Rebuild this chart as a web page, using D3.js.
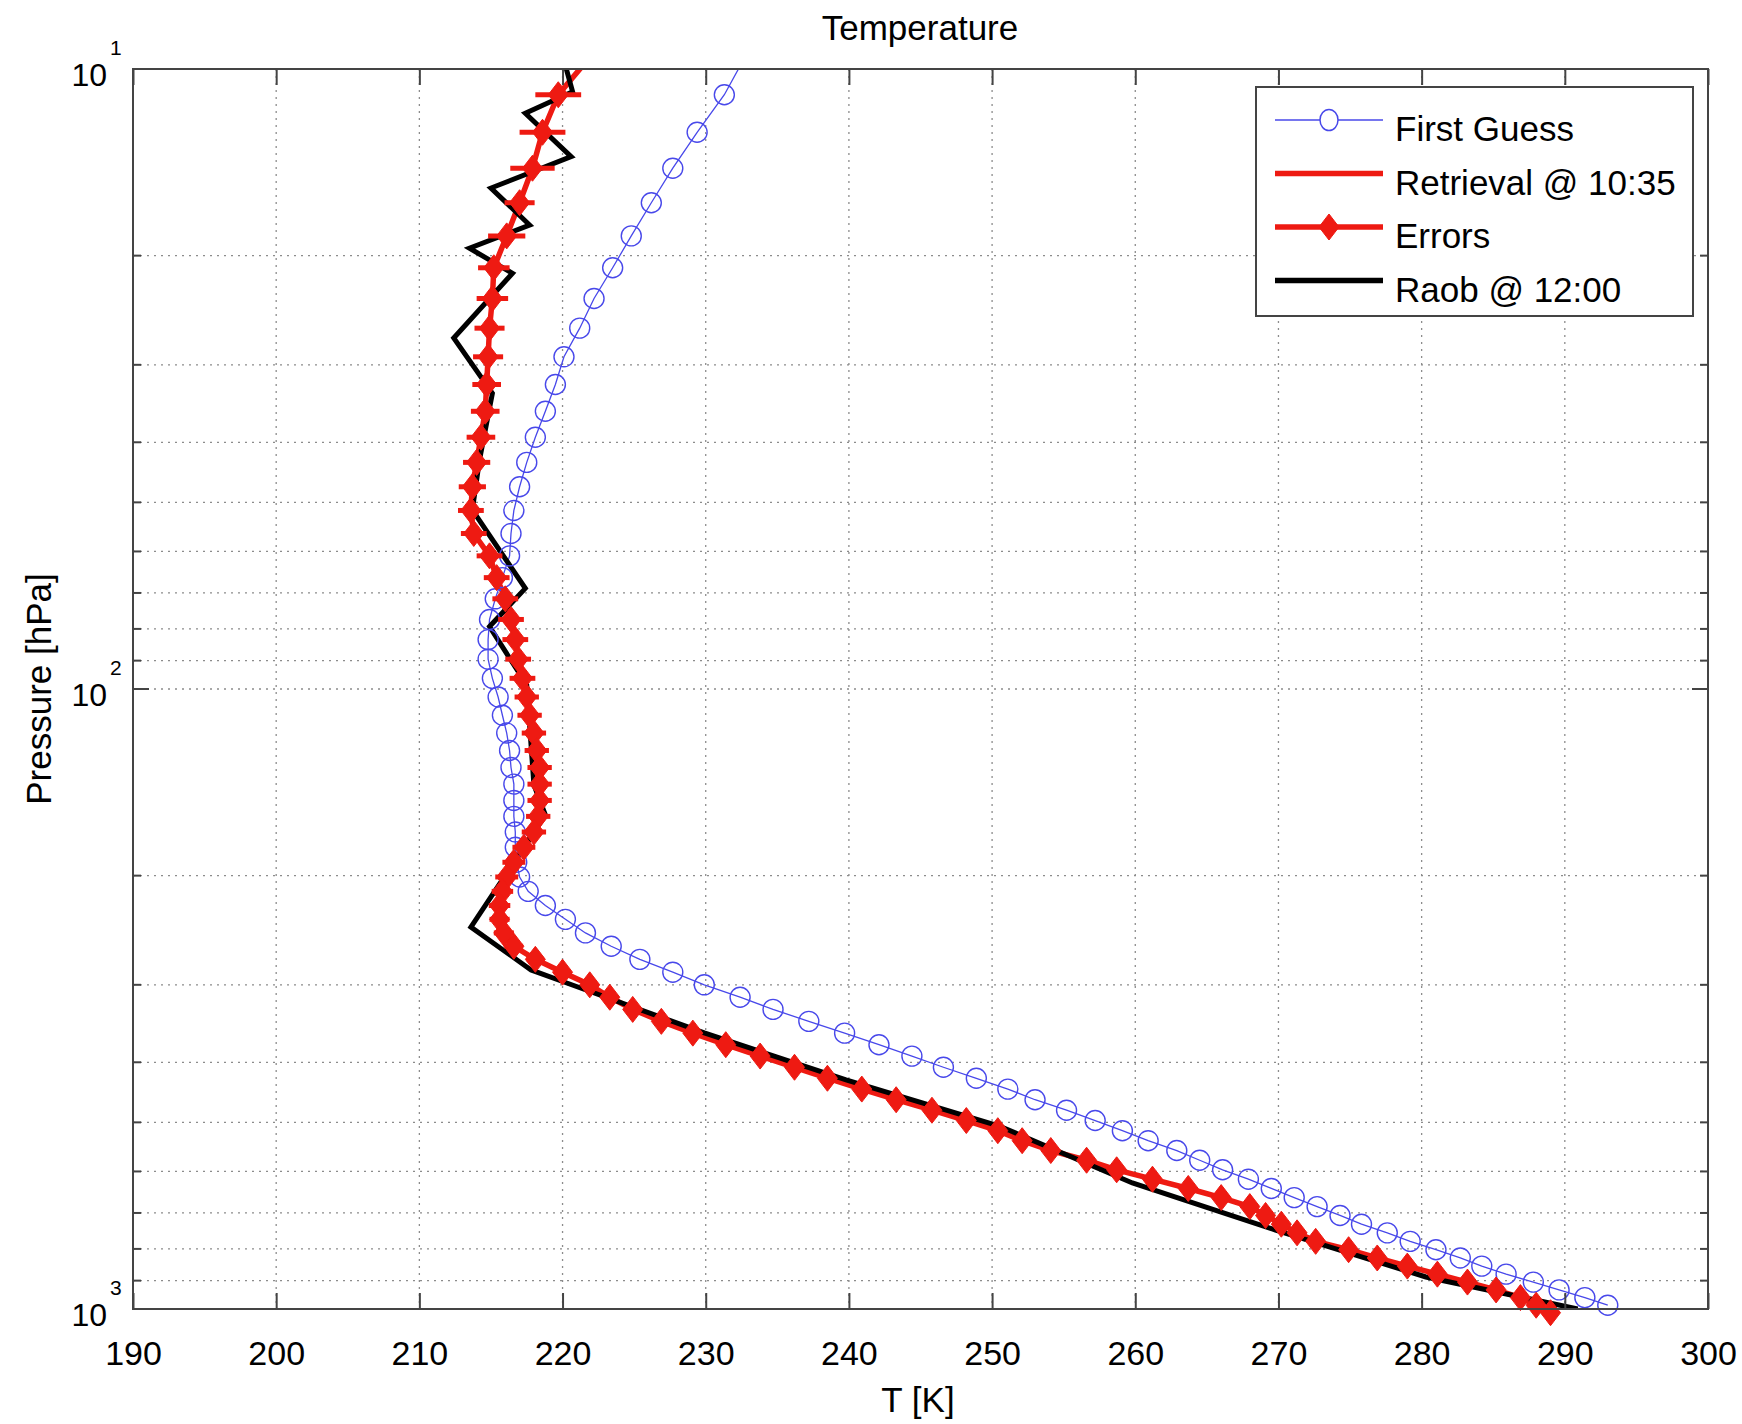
<!DOCTYPE html>
<html>
<head>
<meta charset="utf-8">
<script src="https://cdn.jsdelivr.net/npm/d3@7"></script>
<style>
  body { margin: 0; background: #fff; }
  text { font-family: "Liberation Sans", Arial, Helvetica, sans-serif; fill: #000; }
</style>
</head>
<body>
<script>
// pressure levels [hPa] (retrieval grid)
const pLevels = [9.5119, 11.0038, 12.6492, 14.4559, 16.4318, 18.5847, 20.9224, 23.4526, 26.1829, 29.1210,
  32.2744, 35.6505, 39.2566, 43.1001, 47.1882, 51.5278, 56.1260, 60.9895, 66.1253, 71.5398,
  77.2396, 83.2310, 89.5204, 96.1138, 103.0172, 110.2366, 117.7775, 125.6456, 133.8462, 142.3848,
  151.2664, 160.4959, 170.0784, 180.0183, 190.3203, 200.9887, 212.0277, 223.4415, 235.2338, 247.4085,
  259.9691, 272.9191, 286.2617, 300.0000, 314.1369, 328.6753, 343.6176, 358.9665, 374.7241, 390.8926,
  407.4738, 424.4698, 441.8819, 459.7118, 477.9607, 496.6298, 515.7200, 535.2322, 555.1669, 575.5248,
  596.3062, 617.5112, 639.1398, 661.1920, 683.6673, 706.5654, 729.8857, 753.6275, 777.7897, 802.3714,
  827.3713, 852.7880, 878.6201, 904.8659, 931.5236, 958.5911, 986.0666, 1013.9476];

// first guess T [K]
const firstGuess = [232.8, 231.3, 229.4, 227.7, 226.2, 224.8, 223.5, 222.2, 221.2, 220.1,
  219.5, 218.8, 218.1, 217.5, 217.0, 216.6, 216.4, 216.3, 215.8, 215.3,
  214.9, 214.8, 214.8, 215.1, 215.5, 215.8, 216.1, 216.3, 216.4, 216.6,
  216.6, 216.6, 216.7, 216.7, 216.8, 217.0, 217.6, 218.8, 220.2, 221.6,
  223.4, 225.4, 227.7, 229.9, 232.4, 234.7, 237.2, 239.7, 242.1, 244.4,
  246.6, 248.9, 251.1, 253.0, 255.2, 257.2, 259.1, 260.9, 262.9, 264.5,
  266.1, 267.9, 269.5, 271.1, 272.7, 274.3, 275.8, 277.6, 279.2, 281.0,
  282.7, 284.2, 285.9, 287.8, 289.6, 291.4, 293.0, null];

// retrieval T [K]
const retrieval = [222.0, 219.7, 218.6, 217.9, 217.0, 216.1, 215.2, 215.1, 214.9, 214.8,
  214.7, 214.6, 214.3, 214.0, 213.7, 213.6, 213.8, 214.9, 215.4, 216.0,
  216.4, 216.7, 216.9, 217.2, 217.5, 217.7, 218.0, 218.2, 218.4, 218.4,
  218.4, 218.3, 218.0, 217.3, 216.6, 216.1, 215.8, 215.6, 215.6, 215.9,
  216.6, 218.1, 220.0, 221.9, 223.3, 224.9, 226.9, 229.1, 231.4, 233.8,
  236.2, 238.5, 240.9, 243.3, 245.8, 248.2, 250.4, 252.1, 254.1, 256.6,
  258.7, 261.2, 263.7, 266.0, 268.0, 269.1, 270.2, 271.3, 272.6, 274.9,
  276.9, 279.0, 281.1, 283.2, 285.2, 286.9, 288.0, 289.0];

// retrieval errors [K]
const errors = [1.6, 1.6, 1.6, 1.55, 1.05, 1.3, 1.1, 1.1, 1.05, 1.05,
  1.0, 1.0, 1.0, 0.95, 0.95, 0.9, 0.9, 0.9, 0.9, 0.9,
  0.9, 0.9, 0.9, 0.9, 0.85, 0.85, 0.85, 0.85, 0.85, 0.85,
  0.85, 0.85, 0.85, 0.8, 0.8, 0.8, 0.75, 0.75, 0.7, 0.7,
  0.65, 0.6, 0.55, 0.55, 0.55, 0.55, 0.55, 0.55, 0.55, 0.55,
  0.5, 0.5, 0.5, 0.5, 0.5, 0.5, 0.5, 0.5, 0.5, 0.5,
  0.5, 0.5, 0.5, 0.5, 0.5, 0.5, 0.5, 0.5, 0.5, 0.5,
  0.5, 0.5, 0.5, 0.5, 0.5, 0.5, 0.5, 0.5];

// radiosonde
const raobP = [9.5, 10.88, 11.79, 13.85, 15.56, 17.85, 19.46, 21.36, 27.16, 33.36, 42.72, 51.44, 68.81,
  79.33, 98.52, 142.8, 159.7, 242.1, 283.9, 298.0, 358.7, 427.1, 506.9, 626.2, 745.8, 887.9, 1000];
const raobT = [220.0, 220.7, 217.4, 220.6, 215.0, 217.7, 213.5, 216.5, 212.4, 215.1, 214.2, 213.7, 217.4,
  214.9, 217.5, 218.0, 218.8, 213.6, 217.8, 220.3, 229.9, 239.8, 250.5, 259.8, 269.8, 280.3, 290.9];

const xTicks = [190, 200, 210, 220, 230, 240, 250, 260, 270, 280, 290, 300];
const yDecades = [10, 100, 1000];
const yExponents = ["1", "2", "3"];
const legendLabels = ["First Guess", "Retrieval @ 10:35", "Errors", "Raob @ 12:00"];

const W = 1742, H = 1424;
const L = 133, R = 1708, T = 69, B = 1309;

const svg = d3.select("body").append("svg")
  .attr("width", W).attr("height", H);

const x = d3.scaleLinear().domain([190, 300]).range([L, R]);
const y = d3.scaleLog().domain([10, 1000]).range([T, B]);

const levels = pLevels.map((p, i) => ({ p, fg: firstGuess[i], ret: retrieval[i], err: errors[i] }));
const raob = raobP.map((p, i) => ({ p, t: raobT[i] }));
const inside = levels.filter(d => d.p >= 10);

svg.append("clipPath").attr("id", "plot")
  .append("rect").attr("x", L).attr("y", T).attr("width", R - L).attr("height", B - T);

// grid
const grid = svg.append("g").attr("stroke", "#8c8c8c").attr("stroke-width", 1.3)
  .attr("stroke-dasharray", "2,5");
grid.selectAll(".vg").data(xTicks.slice(1, -1)).enter().append("line")
  .attr("x1", d => x(d)).attr("x2", d => x(d)).attr("y1", T).attr("y2", B);
grid.selectAll(".hg").data(y.ticks().filter(v => v > 10 && v < 1000)).enter().append("line")
  .attr("x1", L).attr("x2", R).attr("y1", d => y(d)).attr("y2", d => y(d));

const plot = svg.append("g");
const clipped = plot.append("g").attr("clip-path", "url(#plot)");

// first guess
const blue = "#4848ea";
clipped.append("path")
  .datum(levels)
  .attr("fill", "none").attr("stroke", blue).attr("stroke-width", 1.3)
  .attr("d", d3.line().defined(d => d.fg != null).x(d => x(d.fg)).y(d => y(d.p)));
plot.selectAll(".fg").data(inside.filter(d => d.fg != null)).enter().append("circle")
  .attr("cx", d => x(d.fg)).attr("cy", d => y(d.p)).attr("r", 10)
  .attr("fill", "none").attr("stroke", blue).attr("stroke-width", 1.4);

// retrieval
const red = "#ee1a12";
const retLine = d3.line().x(d => x(d.ret)).y(d => y(d.p));
clipped.append("path").datum(levels)
  .attr("fill", "none").attr("stroke", red).attr("stroke-width", 5.5)
  .attr("stroke-linejoin", "round").attr("d", retLine);

// errors
plot.selectAll(".eb").data(inside).enter().append("line")
  .attr("x1", d => x(d.ret - d.err)).attr("x2", d => x(d.ret + d.err))
  .attr("y1", d => y(d.p)).attr("y2", d => y(d.p))
  .attr("stroke", red).attr("stroke-width", 5);
const diamond = (cx, cy) => `M${cx},${cy - 13}L${cx + 10},${cy}L${cx},${cy + 13}L${cx - 10},${cy}Z`;
plot.selectAll(".dm").data(inside).enter().append("path")
  .attr("d", d => diamond(x(d.ret), y(d.p)))
  .attr("fill", red).attr("stroke", red).attr("stroke-width", 1);

// raob
clipped.append("path").datum(raob)
  .attr("fill", "none").attr("stroke", "#000").attr("stroke-width", 5)
  .attr("stroke-linejoin", "miter")
  .attr("d", d3.line().x(d => x(d.t)).y(d => y(d.p)));

// axes box and ticks
const axisColor = "#444";
svg.append("rect").attr("x", L).attr("y", T).attr("width", R - L).attr("height", B - T)
  .attr("fill", "none").attr("stroke", axisColor).attr("stroke-width", 2);

const xb = svg.append("g").attr("transform", `translate(0,${B})`)
  .call(d3.axisBottom(x).tickValues(xTicks).tickSize(-16).tickPadding(32).tickFormat(d3.format("d")));
const xt = svg.append("g").attr("transform", `translate(0,${T})`)
  .call(d3.axisTop(x).tickValues(xTicks).tickSize(-16).tickFormat(""));
[xb, xt].forEach(g => {
  g.select(".domain").remove();
  g.selectAll(".tick line").attr("stroke", axisColor).attr("stroke-width", 2);
});
xb.selectAll(".tick text").style("font-size", "34px").style("font-family", "Liberation Sans, Arial, sans-serif")
  .attr("fill", "#000");

const yMinor = y.ticks().filter(v => !yDecades.includes(v));
[[L, 1], [R, -1]].forEach(([x0, dir]) => {
  svg.append("g").selectAll("line").data(yMinor).enter().append("line")
    .attr("x1", x0).attr("x2", x0 + dir * 8)
    .attr("y1", d => y(d)).attr("y2", d => y(d))
    .attr("stroke", axisColor).attr("stroke-width", 2);
  svg.append("g").selectAll("line").data(yDecades).enter().append("line")
    .attr("x1", x0).attr("x2", x0 + dir * 16)
    .attr("y1", d => y(d)).attr("y2", d => y(d))
    .attr("stroke", axisColor).attr("stroke-width", 2);
});

const yl = svg.append("g");
yl.selectAll(".base").data(yDecades).enter().append("text")
  .attr("x", 107).attr("y", d => y(d) + 17)
  .attr("text-anchor", "end").style("font-size", "32px").text("10");
yl.selectAll(".exp").data(yDecades).enter().append("text")
  .attr("x", 110).attr("y", d => y(d) - 14)
  .style("font-size", "21px").text((d, i) => yExponents[i]);

// titles
svg.append("text").attr("x", 920).attr("y", 40).attr("text-anchor", "middle")
  .style("font-size", "35px").text("Temperature");
svg.append("text").attr("x", 918).attr("y", 1412).attr("text-anchor", "middle")
  .style("font-size", "35px").text("T [K]");
svg.append("text").attr("transform", `translate(51,${(T + B) / 2}) rotate(-90)`)
  .attr("text-anchor", "middle").style("font-size", "35px").text("Pressure [hPa]");

// legend
const lg = svg.append("g");
lg.append("rect").attr("x", 1256).attr("y", 87).attr("width", 437).attr("height", 229)
  .attr("fill", "#fff").attr("stroke", axisColor).attr("stroke-width", 2);
const rowY = i => 120 + i * 53.5;
const styles = [
  { c: blue, w: 1.5 }, { c: red, w: 5.5 }, { c: red, w: 5.5 }, { c: "#000", w: 5.5 }
];
legendLabels.forEach((lab, i) => {
  lg.append("line").attr("x1", 1275).attr("x2", 1383).attr("y1", rowY(i)).attr("y2", rowY(i))
    .attr("stroke", styles[i].c).attr("stroke-width", styles[i].w);
  lg.append("text").attr("x", 1395).attr("y", rowY(i) + 21).style("font-size", "35px").text(lab);
});
lg.append("ellipse").attr("cx", 1329).attr("cy", rowY(0)).attr("rx", 9).attr("ry", 10.5)
  .attr("fill", "#fff").attr("stroke", blue).attr("stroke-width", 1.5);
lg.append("path").attr("d", diamond(1329, rowY(2))).attr("fill", red).attr("stroke", red);
</script>
</body>
</html>
